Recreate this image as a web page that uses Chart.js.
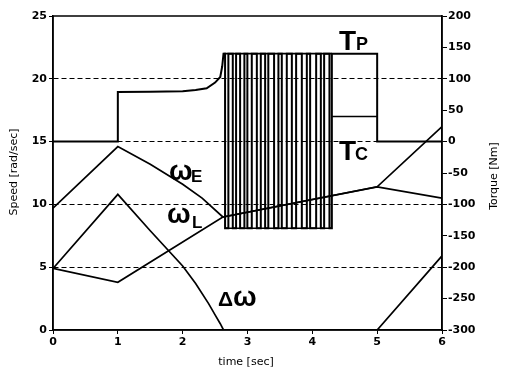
<!DOCTYPE html>
<html>
<head>
<meta charset="utf-8">
<script src="https://cdn.jsdelivr.net/npm/chart.js@4/dist/chart.umd.min.js"></script>
<style>
    html, body { margin: 0; padding: 0; background: #fff; }
</style>
</head>
<body>
<canvas id="grafico" width="508" height="369"></canvas>
<script>
// ===== datos =====
// ejes
const ticksTiempo = [0, 1, 2, 3, 4, 5, 6];
const ticksVelocidad = [0, 5, 10, 15, 20, 25];
const ticksTorque = [200, 150, 100, 50, 0, -50, -100, -150, -200, -250, -300];

// velocidades [rad/sec]
const tOmegaE = [0, 1, 1.5, 2.0, 2.3, 2.62, 5.0, 6];
const vOmegaE = [9.7, 14.6, 13.2, 11.6, 10.5, 9.0, 11.4, 16.2];

const tOmegaL = [0, 1, 2.62, 5.0, 6];
const vOmegaL = [4.9, 3.8, 9.0, 11.4, 10.5];

const tDeltaW = [0, 1, 1.5, 2.0, 2.2, 2.4, 2.5, 2.58, 2.63, null, 5.0, 6];
const vDeltaW = [4.9, 10.8, 7.9, 5.1, 3.7, 2.1, 1.2, 0.5, 0, null, 0, 5.9];

// torque Tp [Nm] antes de los pulsos
const tTpInicio = [0, 1, 1, 1.5, 2.0, 2.2, 2.37, 2.5, 2.58, 2.61, 2.63];
const vTpInicio = [0, 0, 79, 79.5, 80, 82, 85, 94, 103, 120, 140];
// flancos de los pulsos (seg)
const tPulsos = [2.654, 2.705, 2.773, 2.824, 2.886, 2.952, 2.998, 3.066, 3.144, 3.205,
                 3.272, 3.321, 3.410, 3.477, 3.529, 3.606, 3.684, 3.750, 3.838, 3.915,
                 3.966, 4.059, 4.131, 4.182, 4.264, 4.301];
const pulsoAlto = 140;
const pulsoBajo = -138;
// Tp despues de los pulsos
const tTpFinal = [4.301, 5.0, 5.0, 6];
const vTpFinal = [140, 140, 0, 0];

// Tc
const tTc = [4.301, 5.0];
const vTc = [40, 40];

// ===== armado de series =====
function puntos(ts, vs) {
    return ts.map((t, i) => ({ x: t, y: vs[i] }));
}

let serieTp = puntos(tTpInicio, vTpInicio);
let nivel = pulsoAlto;
tPulsos.forEach(t => {
    let otro = nivel === pulsoAlto ? pulsoBajo : pulsoAlto;
    serieTp.push({ x: t, y: nivel });
    serieTp.push({ x: t, y: otro });
    nivel = otro;
});
serieTp = serieTp.concat(puntos(tTpFinal, vTpFinal));

// bordes superior e inferior del tren de pulsos
const serieBordes = [
    { x: tTpInicio[tTpInicio.length - 1], y: pulsoAlto },
    { x: tPulsos[tPulsos.length - 1], y: pulsoAlto },
    { x: tPulsos[0], y: null },
    { x: tPulsos[0], y: pulsoBajo },
    { x: tPulsos[tPulsos.length - 1], y: pulsoBajo }
];

const linea = (data, eje, ancho) => ({
    data: data,
    yAxisID: eje,
    borderColor: '#000',
    borderWidth: ancho || 1.7,
    pointRadius: 0,
    tension: 0,
    fill: false,
    spanGaps: false
});

// ===== etiquetas y marco =====
const etiquetas = {
    id: 'etiquetas',
    afterDraw(chart) {
        const c = chart.ctx;
        const a = chart.chartArea;
        c.save();
        c.strokeStyle = '#000';
        c.lineWidth = 1.5;
        c.strokeRect(a.left, a.top, a.right - a.left, a.bottom - a.top);

        c.fillStyle = '#000';
        c.textAlign = 'left';
        c.textBaseline = 'alphabetic';
        const txt = (s, x, y, f) => { c.font = f; c.fillText(s, x, y); };

        txt('ω', 169, 180, 'bold 28px "Liberation Sans"');
        txt('E', 191, 182, 'bold 17px "Liberation Sans"');
        txt('ω', 167, 223, 'bold 28px "Liberation Sans"');
        txt('L', 192, 228, 'bold 17px "Liberation Sans"');
        txt('Δ', 218, 306, 'bold 21px "Liberation Sans"');
        txt('ω', 233, 306, 'bold 28px "Liberation Sans"');
        txt('T', 339, 50, 'bold 28px "Liberation Sans"');
        txt('P', 356, 50, 'bold 18px "Liberation Sans"');
        txt('T', 339, 160, 'bold 28px "Liberation Sans"');
        txt('C', 355, 160, 'bold 18px "Liberation Sans"');

        // titulos de ejes
        c.font = '11px "DejaVu Sans"';
        c.textAlign = 'center';
        c.fillText('time [sec]', 246, 365);
        c.textBaseline = 'middle';
        c.translate(14, 172);
        c.rotate(-Math.PI / 2);
        c.fillText('Speed [rad/sec]', 0, 0);
        c.rotate(Math.PI / 2);
        c.translate(-14, -172);
        c.translate(494, 176);
        c.rotate(-Math.PI / 2);
        c.fillText('Torque [Nm]', 0, 0);
        c.restore();
    }
};

const fuenteTicks = { family: '"DejaVu Sans"', size: 11, weight: 'bold' };

const ctx = document.getElementById('grafico').getContext('2d');
new Chart(ctx, {
    type: 'line',
    plugins: [etiquetas],
    data: {
        datasets: [
            linea(puntos(tOmegaE, vOmegaE), 'y'),
            linea(puntos(tOmegaL, vOmegaL), 'y'),
            linea(puntos(tDeltaW, vDeltaW), 'y'),
            linea(serieTp, 'y2', 2),
            linea(serieBordes, 'y2'),
            linea(puntos(tTc, vTc), 'y2')
        ]
    },
    options: {
        responsive: false,
        devicePixelRatio: 1,
        animation: false,
        layout: { padding: { top: 16, left: 0, right: 0, bottom: 0 } },
        plugins: {
            legend: { display: false },
            tooltip: { enabled: false }
        },
        scales: {
            x: {
                type: 'linear',
                min: 0,
                max: 6,
                afterFit: s => { s.height = 39; },
                afterBuildTicks: s => { s.ticks = ticksTiempo.map(v => ({ value: v })); },
                grid: { drawOnChartArea: false, color: '#000', tickLength: 4, lineWidth: 1 },
                border: { display: true, color: '#000', width: 1.5 },
                ticks: { color: '#000', font: fuenteTicks, padding: 2, maxRotation: 0 }
            },
            y: {
                position: 'left',
                min: 0,
                max: 25,
                afterFit: s => { s.width = 53; },
                afterBuildTicks: s => { s.ticks = ticksVelocidad.map(v => ({ value: v })); },
                grid: {
                    color: c => (c.tick && (c.tick.value === 0 || c.tick.value === 25)) ? 'rgba(0,0,0,0)' : '#000',
                    tickColor: '#000',
                    tickLength: 4,
                    lineWidth: 1
                },
                border: { display: true, color: '#000', width: 1.5, dash: [5, 3] },
                ticks: { color: '#000', font: fuenteTicks, padding: 2 }
            },
            y2: {
                position: 'right',
                min: -300,
                max: 200,
                afterFit: s => { s.width = 66; },
                afterBuildTicks: s => { s.ticks = ticksTorque.map(v => ({ value: v })); },
                grid: { drawOnChartArea: false, color: '#000', tickLength: 5, lineWidth: 1 },
                border: { display: true, color: '#000', width: 1.5 },
                ticks: { color: '#000', font: fuenteTicks, padding: 1, autoSkip: false }
            }
        }
    }
});
</script>
</body>
</html>
